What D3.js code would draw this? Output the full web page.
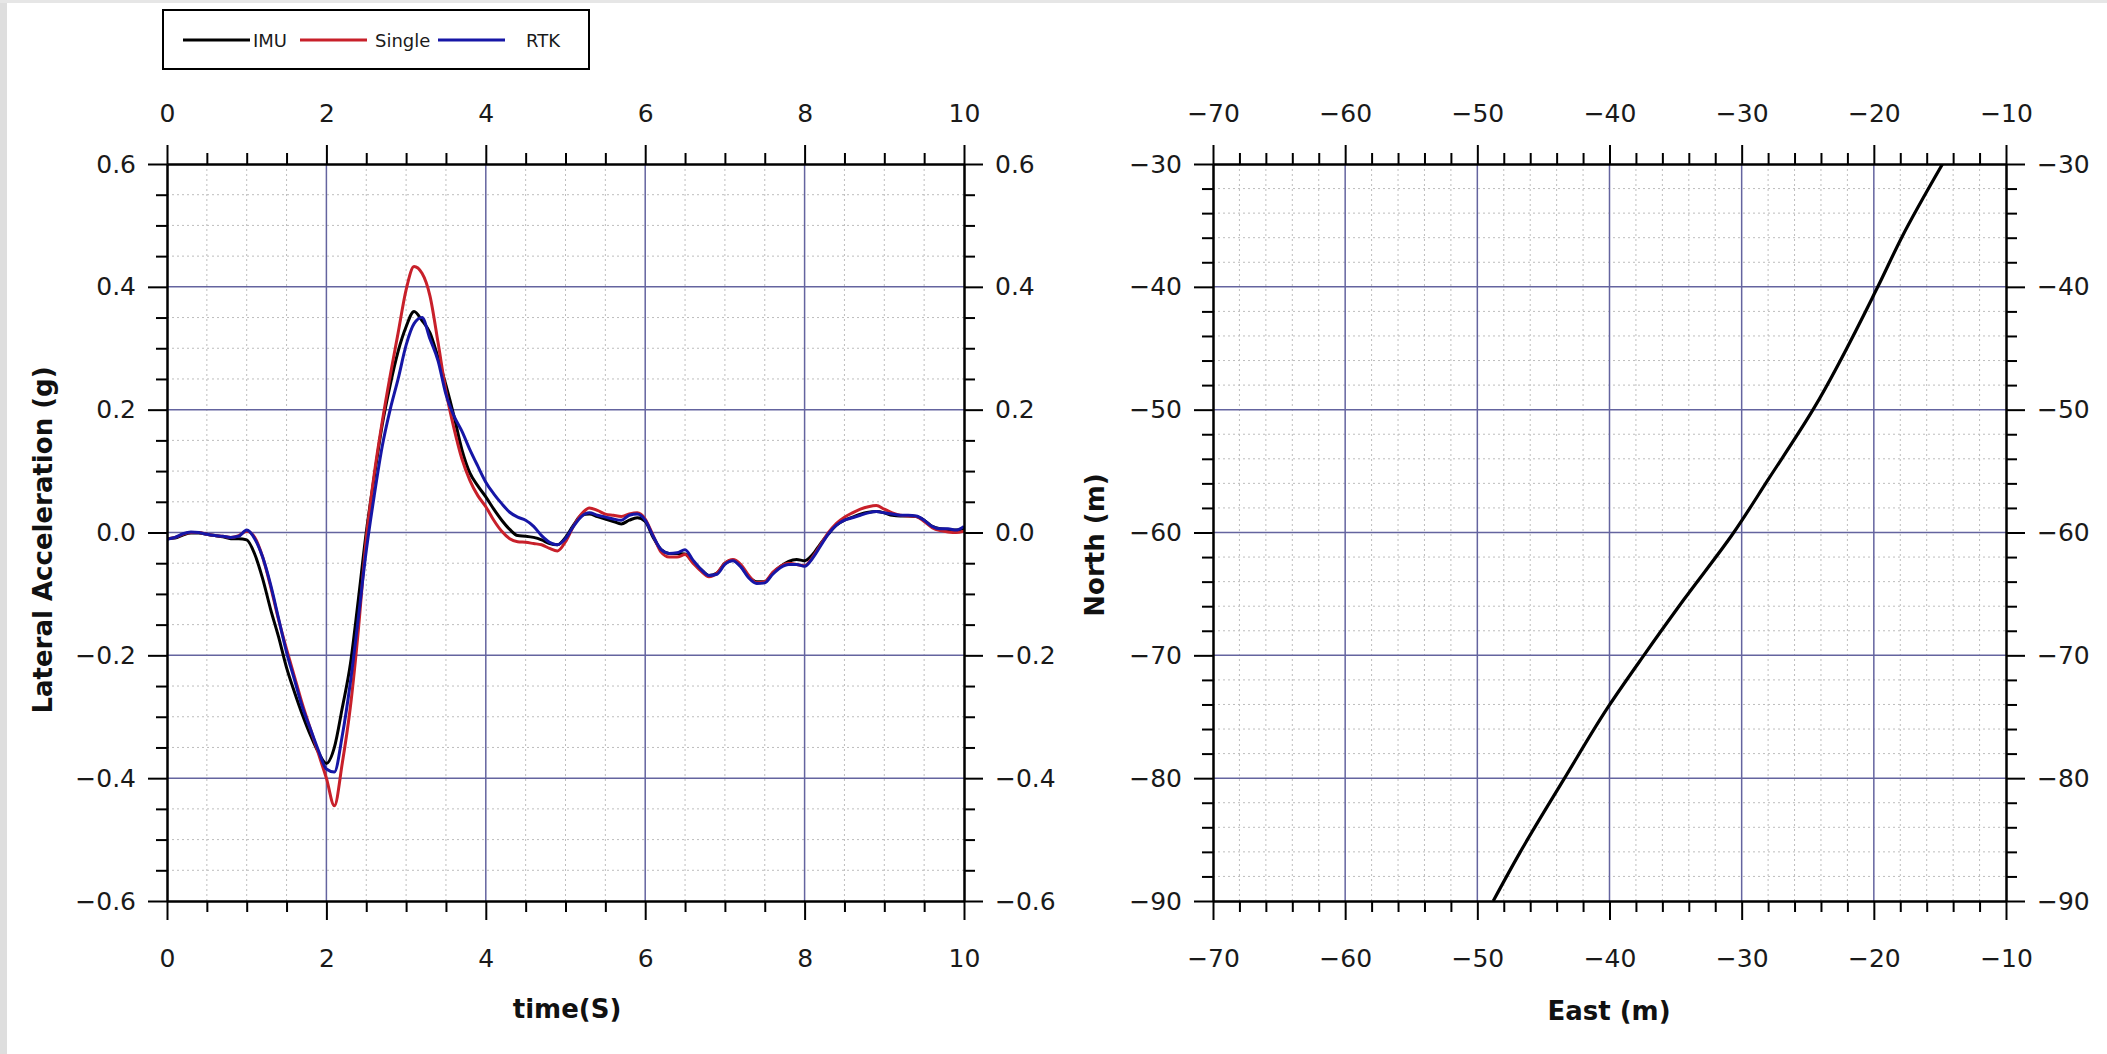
<!DOCTYPE html>
<html>
<head>
<meta charset="utf-8">
<script src="https://cdn.jsdelivr.net/npm/d3@7"></script>
<style>
  html, body { margin: 0; padding: 0; background: #ffffff; }
  svg { display: block; font-family: "DejaVu Sans", sans-serif; }
</style>
</head>
<body>
<svg id="chart" width="2107" height="1054"></svg>
<script>
// ---- Lateral acceleration test run: time (s) and three sensor estimates (g) ----
const timeS = [
  0.0, 0.1, 0.2, 0.3, 0.4, 0.5, 0.6, 0.7, 0.8, 0.9,
  1.0, 1.1, 1.2, 1.3, 1.4, 1.5, 1.6, 1.7, 1.8, 1.9,
  2.0, 2.1, 2.2, 2.3, 2.4, 2.5, 2.6, 2.7, 2.8, 2.9,
  3.0, 3.1, 3.2, 3.3, 3.4, 3.5, 3.6, 3.7, 3.8, 3.9,
  4.0, 4.1, 4.2, 4.3, 4.4, 4.5, 4.6, 4.7, 4.8, 4.9,
  5.0, 5.1, 5.2, 5.3, 5.4, 5.5, 5.6, 5.7, 5.8, 5.9,
  6.0, 6.1, 6.2, 6.3, 6.4, 6.5, 6.6, 6.7, 6.8, 6.9,
  7.0, 7.1, 7.2, 7.3, 7.4, 7.5, 7.6, 7.7, 7.8, 7.9,
  8.0, 8.1, 8.2, 8.3, 8.4, 8.5, 8.6, 8.7, 8.8, 8.9,
  9.0, 9.1, 9.2, 9.3, 9.4, 9.5, 9.6, 9.7, 9.8, 9.9,
  10.0
];

const imuAcc = [
  -0.010, -0.009, -0.004, -0.001, -0.001, -0.003, -0.005, -0.007, -0.010, -0.010,
  -0.012, -0.035, -0.075, -0.125, -0.170, -0.220, -0.260, -0.297, -0.330, -0.358,
  -0.376, -0.350, -0.285, -0.215, -0.110, 0.000, 0.090, 0.175, 0.240, 0.295,
  0.335, 0.360, 0.345, 0.325, 0.285, 0.240, 0.190, 0.135, 0.097, 0.076,
  0.058, 0.038, 0.020, 0.005, -0.005, -0.006, -0.008, -0.012, -0.018, -0.020,
  -0.008, 0.012, 0.028, 0.030, 0.026, 0.022, 0.018, 0.014, 0.020, 0.024,
  0.018, -0.008, -0.028, -0.034, -0.034, -0.035, -0.048, -0.060, -0.070, -0.066,
  -0.050, -0.045, -0.055, -0.072, -0.080, -0.080, -0.066, -0.055, -0.047, -0.044,
  -0.046, -0.036, -0.018, -0.002, 0.012, 0.020, 0.025, 0.030, 0.033, 0.034,
  0.032, 0.028, 0.027, 0.027, 0.026, 0.020, 0.010, 0.006, 0.005, 0.004,
  0.006
];

const singleAcc = [
  -0.010, -0.008, -0.003, 0.000, 0.000, -0.003, -0.005, -0.006, -0.008, -0.005,
  0.002, -0.008, -0.040, -0.088, -0.142, -0.190, -0.235, -0.280, -0.320, -0.360,
  -0.400, -0.445, -0.375, -0.285, -0.160, -0.010, 0.095, 0.180, 0.255, 0.325,
  0.395, 0.433, 0.422, 0.385, 0.310, 0.230, 0.170, 0.120, 0.085, 0.060,
  0.042, 0.020, 0.002, -0.010, -0.015, -0.016, -0.018, -0.020, -0.026, -0.030,
  -0.015, 0.010, 0.030, 0.040, 0.036, 0.030, 0.028, 0.026, 0.030, 0.032,
  0.022, -0.005, -0.032, -0.040, -0.040, -0.036, -0.050, -0.063, -0.072, -0.066,
  -0.050, -0.044, -0.052, -0.070, -0.082, -0.080, -0.065, -0.055, -0.050, -0.052,
  -0.054, -0.040, -0.020, 0.000, 0.015, 0.025, 0.032, 0.038, 0.042, 0.044,
  0.038, 0.032, 0.028, 0.027, 0.026, 0.018, 0.008, 0.003, 0.001, 0.000,
  0.002
];

const rtkAcc = [
  -0.011, -0.008, -0.002, 0.001, 0.000, -0.003, -0.005, -0.006, -0.008, -0.006,
  0.004, -0.010, -0.040, -0.085, -0.140, -0.195, -0.240, -0.285, -0.320, -0.355,
  -0.385, -0.390, -0.330, -0.245, -0.140, -0.030, 0.060, 0.140, 0.200, 0.250,
  0.305, 0.340, 0.350, 0.315, 0.280, 0.225, 0.190, 0.165, 0.135, 0.108,
  0.082, 0.063, 0.047, 0.033, 0.025, 0.020, 0.010, -0.005, -0.016, -0.020,
  -0.010, 0.010, 0.026, 0.032, 0.028, 0.025, 0.022, 0.020, 0.028, 0.030,
  0.020, -0.006, -0.028, -0.034, -0.033, -0.028, -0.045, -0.060, -0.070, -0.068,
  -0.052, -0.046, -0.056, -0.074, -0.083, -0.082, -0.068, -0.057, -0.052, -0.052,
  -0.055, -0.042, -0.022, -0.002, 0.012, 0.020, 0.024, 0.028, 0.032, 0.034,
  0.032, 0.030, 0.028, 0.028, 0.027, 0.020, 0.010, 0.006, 0.006, 0.004,
  0.010
];

const seriesNames = ["IMU", "Single", "RTK"];
const seriesColors = ["#000000", "#c8202a", "#1616a6"];

// ---- Vehicle track in the local frame (m) ----
const trackEast  = [-48.8, -46.8, -43.4, -40.1, -37.4, -34.4, -30.6, -28.0, -24.6, -19.7, -17.9, -14.8];
const trackNorth = [-90.0, -86.1, -80.0, -74.2, -70.0, -65.5, -60.0, -55.7, -50.0, -40.0, -36.0, -30.0];

// ---- Tick values ----
const accTimeTicks  = [0, 2, 4, 6, 8, 10];
const accTimeMinor  = [0.5, 1, 1.5, 2.5, 3, 3.5, 4.5, 5, 5.5, 6.5, 7, 7.5, 8.5, 9, 9.5];
const accValueTicks = [-0.6, -0.4, -0.2, 0.0, 0.2, 0.4, 0.6];
const accValueMinor = [-0.55, -0.5, -0.45, -0.35, -0.3, -0.25, -0.15, -0.1, -0.05,
                       0.05, 0.1, 0.15, 0.25, 0.3, 0.35, 0.45, 0.5, 0.55];
const eastTicks  = [-70, -60, -50, -40, -30, -20, -10];
const eastMinor  = [-68, -66, -64, -62, -58, -56, -54, -52, -48, -46, -44, -42,
                    -38, -36, -34, -32, -28, -26, -24, -22, -18, -16, -14, -12];
const northTicks = [-90, -80, -70, -60, -50, -40, -30];
const northMinor = [-88, -86, -84, -82, -78, -76, -74, -72, -68, -66, -64, -62,
                    -58, -56, -54, -52, -48, -46, -44, -42, -38, -36, -34, -32];

const svg = d3.select("#chart");

// page frame strips
svg.append("rect").attr("x", 0).attr("y", 0).attr("width", 2107).attr("height", 1054).attr("fill", "#ffffff");
svg.append("rect").attr("x", 0).attr("y", 0).attr("width", 7).attr("height", 1054).attr("fill", "#dedede");
svg.append("rect").attr("x", 0).attr("y", 0).attr("width", 2107).attr("height", 3).attr("fill", "#e6e6e6");

const TICK_MAJOR = 19, TICK_MINOR = 11, LABEL_SIZE = 25;

function drawPanel(cfg) {
  const { x, y, xTicks, xMinor, yTicks, yMinor, xFmt, yFmt, clipId } = cfg;
  const [x0, x1] = x.range();
  const [y0, y1] = y.range(); // y0 bottom, y1 top
  const g = svg.append("g");

  // minor dotted grid
  const grid = g.append("g");
  grid.selectAll("line.mx").data(xMinor).join("line")
    .attr("x1", d => x(d)).attr("x2", d => x(d)).attr("y1", y1).attr("y2", y0)
    .attr("stroke", "#bdbdbd").attr("stroke-width", 1).attr("stroke-dasharray", "2,3");
  grid.selectAll("line.my").data(yMinor).join("line")
    .attr("x1", x0).attr("x2", x1).attr("y1", d => y(d)).attr("y2", d => y(d))
    .attr("stroke", "#bdbdbd").attr("stroke-width", 1).attr("stroke-dasharray", "2,3");
  // major solid grid
  const xIn = xTicks.slice(1, -1), yIn = yTicks.slice(1, -1);
  grid.selectAll("line.Mx").data(xIn).join("line")
    .attr("x1", d => x(d)).attr("x2", d => x(d)).attr("y1", y1).attr("y2", y0)
    .attr("stroke", "#64649f").attr("stroke-width", 1.5);
  grid.selectAll("line.My").data(yIn).join("line")
    .attr("x1", x0).attr("x2", x1).attr("y1", d => y(d)).attr("y2", d => y(d))
    .attr("stroke", "#64649f").attr("stroke-width", 1.5);

  g.append("clipPath").attr("id", clipId)
    .append("rect").attr("x", x0).attr("y", y1).attr("width", x1 - x0).attr("height", y0 - y1);

  const plot = g.append("g").attr("clip-path", `url(#${clipId})`);

  // axes on all four sides, ticks pointing outward
  const style = sel => {
    sel.select(".domain").attr("stroke", "#000").attr("stroke-width", 2);
    sel.selectAll(".tick line").attr("stroke", "#000").attr("stroke-width", 2);
    sel.selectAll("text").attr("fill", "#1a1a1a")
      .attr("font-family", "'DejaVu Sans', sans-serif").attr("font-size", LABEL_SIZE);
    sel.attr("font-size", null).attr("font-family", null);
  };
  const mk = (axisFn, scale, major, minor, fmt, pad, transform) => {
    g.append("g").attr("transform", transform)
      .call(axisFn(scale).tickValues(minor).tickSize(TICK_MINOR).tickSizeOuter(0).tickFormat(""))
      .call(style);
    g.append("g").attr("transform", transform)
      .call(axisFn(scale).tickValues(major).tickSize(TICK_MAJOR).tickSizeOuter(0)
        .tickPadding(pad).tickFormat(fmt))
      .call(style);
  };
  mk(d3.axisBottom, x, xTicks, xMinor, xFmt, 29, `translate(0,${y0})`);
  mk(d3.axisTop, x, xTicks, xMinor, xFmt, 23, `translate(0,${y1})`);
  mk(d3.axisLeft, y, yTicks, yMinor, yFmt, 12, `translate(${x0},0)`);
  mk(d3.axisRight, y, yTicks, yMinor, yFmt, 12, `translate(${x1},0)`);

  return plot;
}

// ---- Left panel: lateral acceleration vs time ----
const xT = d3.scaleLinear().domain([0, 10]).range([167, 964]);
const yA = d3.scaleLinear().domain([-0.6, 0.6]).range([901, 164]);

const accPlot = drawPanel({
  x: xT, y: yA,
  xTicks: accTimeTicks, xMinor: accTimeMinor,
  yTicks: accValueTicks, yMinor: accValueMinor,
  xFmt: d3.format("d"), yFmt: d3.format(".1f"), clipId: "clipAcc"
});

const accSeries = [imuAcc, singleAcc, rtkAcc];
const accLine = d3.line()
  .x((d, i) => xT(timeS[i]))
  .y(d => yA(d))
  .curve(d3.curveMonotoneX);

accPlot.selectAll("path.acc").data(accSeries).join("path")
  .attr("class", "acc")
  .attr("d", d => accLine(d))
  .attr("fill", "none")
  .attr("stroke", (d, i) => seriesColors[i])
  .attr("stroke-width", 3)
  .attr("stroke-linejoin", "round");

svg.append("text")
  .attr("transform", "translate(52,540) rotate(-90)")
  .attr("text-anchor", "middle")
  .attr("font-weight", "bold").attr("font-size", 26).attr("fill", "#111")
  .text("Lateral Acceleration (g)");

svg.append("text")
  .attr("x", 567).attr("y", 1018)
  .attr("text-anchor", "middle")
  .attr("font-weight", "bold").attr("font-size", 26).attr("fill", "#111")
  .text("time(S)");

// ---- Right panel: track, North vs East ----
const xE = d3.scaleLinear().domain([-70, -10]).range([1213, 2006]);
const yN = d3.scaleLinear().domain([-90, -30]).range([901, 164]);

const trackPlot = drawPanel({
  x: xE, y: yN,
  xTicks: eastTicks, xMinor: eastMinor,
  yTicks: northTicks, yMinor: northMinor,
  xFmt: d3.format("d"), yFmt: d3.format("d"), clipId: "clipTrack"
});

const trackLine = d3.line()
  .x((d, i) => xE(trackEast[i]))
  .y(d => yN(d))
  .curve(d3.curveMonotoneY);

trackPlot.append("path")
  .attr("d", trackLine(trackNorth))
  .attr("fill", "none")
  .attr("stroke", "#000")
  .attr("stroke-width", 3.2)
  .attr("stroke-linejoin", "round");

svg.append("text")
  .attr("transform", "translate(1104,545) rotate(-90)")
  .attr("text-anchor", "middle")
  .attr("font-weight", "bold").attr("font-size", 26).attr("fill", "#111")
  .text("North (m)");

svg.append("text")
  .attr("x", 1609).attr("y", 1020)
  .attr("text-anchor", "middle")
  .attr("font-weight", "bold").attr("font-size", 26).attr("fill", "#111")
  .text("East (m)");

// ---- Legend ----
const legend = svg.append("g");
legend.append("rect")
  .attr("x", 163).attr("y", 10).attr("width", 426).attr("height", 59)
  .attr("fill", "#fff").attr("stroke", "#000").attr("stroke-width", 2);

const legendLineX = [183, 300, 438];
const legendTextX = [253, 375, 526];
seriesNames.forEach((name, i) => {
  legend.append("line")
    .attr("x1", legendLineX[i]).attr("x2", legendLineX[i] + 67)
    .attr("y1", 40).attr("y2", 40)
    .attr("stroke", seriesColors[i]).attr("stroke-width", 3);
  legend.append("text")
    .attr("x", legendTextX[i]).attr("y", 47)
    .attr("font-size", 18).attr("fill", "#1a1a1a")
    .text(name);
});
</script>
</body>
</html>
